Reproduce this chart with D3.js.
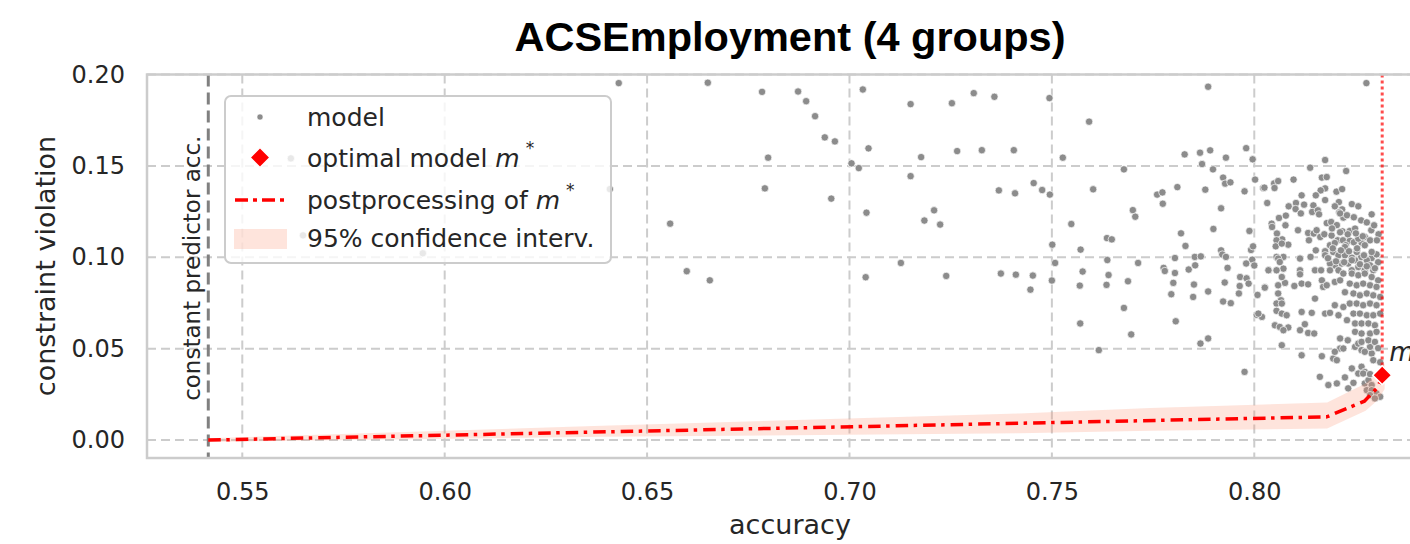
<!DOCTYPE html>
<html>
<head>
<meta charset="utf-8">
<script src="https://cdn.jsdelivr.net/npm/d3@7"></script>
<style>
  body { margin: 0; background: #fff; }
  text { font-family: "DejaVu Sans", sans-serif; fill: #262626; }
</style>
</head>
<body>
<div id="chart"></div>
<script>
// Model results: [accuracy, constraint violation]
var models = [
  [0.6430,0.1953],[0.6650,0.1955],[0.6784,0.1905],[0.6873,0.1907],[0.6893,0.1854],[0.6915,0.1772],[0.6939,0.1656],[0.6964,0.1634],
  [0.6799,0.1545],[0.6791,0.1377],[0.6955,0.1321],[0.6557,0.1184],[0.6598,0.0924],[0.6655,0.0874],[0.7033,0.1918],[0.7047,0.1596],
  [0.7005,0.1514],[0.7023,0.1488],[0.7042,0.1244],[0.7040,0.0891],[0.7151,0.1838],[0.7177,0.1548],[0.7151,0.1444],[0.7209,0.1257],
  [0.7185,0.1201],[0.7224,0.1179],[0.7127,0.0969],[0.7239,0.0898],[0.7253,0.1843],[0.7307,0.1898],[0.7358,0.1878],[0.7266,0.1581],
  [0.7327,0.1586],[0.7406,0.1586],[0.7369,0.1366],[0.7409,0.1350],[0.7374,0.0911],[0.7411,0.0905],[0.5620,0.1541],[0.6408,0.1373],
  [0.5650,0.1120],[0.5946,0.1022],
  [0.7527,0.1545],[0.7678,0.1481],[0.7455,0.1406],[0.7476,0.1368],[0.7495,0.1343],[0.7602,0.1372],[0.7700,0.1258],[0.7706,0.1222],
  [0.7548,0.1182],[0.7501,0.1069],[0.7571,0.1042],[0.7508,0.0969],[0.7636,0.1105],[0.7648,0.1098],[0.7637,0.0985],[0.7713,0.0969],
  [0.7453,0.0900],[0.7447,0.0823],[0.7500,0.0873],[0.7576,0.0922],[0.7569,0.0845],[0.7640,0.0903],[0.7635,0.0849],[0.7688,0.0869],
  [0.7678,0.0723],[0.7570,0.0638],[0.7696,0.0578],[0.7616,0.0492],[0.7760,0.1343],[0.7773,0.1355],[0.7774,0.1293],[0.7810,0.1384],
  [0.7828,0.1563],[0.7866,0.1572],[0.7891,0.1585],[0.7871,0.1510],[0.7898,0.1481],[0.7930,0.1545],[0.7996,0.1536],[0.7923,0.1436],
  [0.7928,0.1403],[0.7941,0.1410],[0.7879,0.1370],[0.7976,0.1361],[0.8002,0.1425],[0.8022,0.1379],[0.8032,0.1297],[0.7918,0.1268],
  [0.7819,0.1131],[0.7830,0.1062],[0.7899,0.1155],[0.7988,0.1144],[0.7804,0.0996],[0.7853,0.1002],[0.7868,0.1005],[0.7918,0.1038],
  [0.7921,0.1015],[0.7930,0.1002],[0.7992,0.1040],[0.7997,0.1060],[0.7995,0.0987],[0.7980,0.0966],[0.8000,0.0955],[0.7776,0.0942],
  [0.7779,0.0925],[0.7804,0.0914],[0.7838,0.0933],[0.7854,0.0956],[0.7934,0.0942],[0.7800,0.0860],[0.7795,0.0798],[0.7851,0.0851],
  [0.7849,0.0783],[0.7886,0.0813],[0.7927,0.0862],[0.7965,0.0892],[0.7981,0.0885],[0.7986,0.0856],[0.7964,0.0843],[0.7962,0.0802],
  [0.8008,0.0794],[0.8026,0.0836],[0.8036,0.0929],[0.7923,0.0758],[0.7942,0.0749],[0.8006,0.0685],[0.8019,0.0674],[0.7806,0.0650],
  [0.7867,0.0528],[0.7886,0.0556],[0.7976,0.0373],[0.8277,0.1953],[0.7886,0.1933],[0.7494,0.1871],[0.7592,0.1742],[0.7980,0.1597],
  [0.8049,0.1404],[0.8059,0.1417],[0.8050,0.1379],[0.8097,0.1425],[0.8138,0.1490],[0.8175,0.1532],[0.8227,0.1472],[0.8167,0.1436],
  [0.8179,0.1439],[0.8175,0.1377],[0.8164,0.1366],[0.8203,0.1359],[0.8217,0.1373],[0.8152,0.1339],[0.8175,0.1313],[0.8209,0.1302],
  [0.8241,0.1291],[0.8257,0.1279],[0.8290,0.1235],[0.8289,0.1148],[0.8307,0.1126],[0.8085,0.1279],[0.8103,0.1297],[0.8117,0.1339],
  [0.8123,0.1288],[0.8078,0.1228],[0.8102,0.1264],[0.8115,0.1240],[0.8146,0.1284],[0.8143,0.1248],[0.8157,0.1257],[0.8160,0.1235],
  [0.8199,0.1279],[0.8217,0.1262],[0.8210,0.1246],[0.8220,0.1217],[0.8043,0.1184],[0.8044,0.1166],[0.8061,0.1215],[0.8077,0.1175],
  [0.8108,0.1148],[0.8056,0.1130],[0.8069,0.1098],[0.8055,0.1093],[0.8053,0.1060],[0.8084,0.1069],[0.8133,0.1133],[0.8135,0.1093],
  [0.8147,0.1130],[0.8154,0.1148],[0.8179,0.1187],[0.8190,0.1193],[0.8204,0.1176],[0.8163,0.1111],[0.8173,0.1126],[0.8191,0.1119],
  [0.8218,0.1142],[0.8236,0.1144],[0.8206,0.1093],[0.8219,0.1093],[0.8236,0.1091],[0.8226,0.1066],[0.8246,0.1082],[0.8265,0.1080],
  [0.8254,0.1038],[0.8152,0.1038],[0.8175,0.1033],[0.8195,0.1029],[0.8220,0.1029],[0.8228,0.1024],[0.8264,0.1002],[0.8290,0.0996],
  [0.8302,0.1016],[0.8139,0.1002],[0.8055,0.1002],[0.8072,0.1002],[0.8025,0.1381],[0.8273,0.1111],[0.8286,0.1093],[0.8249,0.1157],
  [0.8257,0.1102],[0.8273,0.1066],[0.8253,0.1029],[0.8290,0.1029],[0.8278,0.0984],[0.8249,0.0984],[0.8187,0.1066],[0.8199,0.1078],
  [0.8224,0.1056],[0.8175,0.1011],[0.8208,0.1011],[0.8224,0.1011],[0.8241,0.0998],[0.8232,0.0966],[0.8216,0.0966],[0.8199,0.0956],
  [0.8187,0.0966],[0.8208,0.0929],[0.8241,0.0929],[0.8257,0.0947],[0.8273,0.0929],[0.8294,0.0929],[0.8286,0.0956],[0.8059,0.0993],
  [0.8072,0.0938],[0.8063,0.0974],[0.8035,0.0929],[0.8055,0.0929],[0.8113,0.0993],[0.8113,0.0929],[0.8150,0.0929],[0.8187,0.0929],
  [0.8165,0.0929],[0.8068,0.1075],[0.8212,0.1240],[0.8229,0.1230],[0.8246,0.1219],[0.8264,0.1202],[0.8278,0.1191],[0.8296,0.1175],
  [0.8192,0.1158],[0.8212,0.1137],[0.8231,0.1126],[0.8251,0.1131],[0.8268,0.1115],[0.8303,0.1093],[0.8194,0.1049],[0.8214,0.1038],
  [0.8234,0.1033],[0.8254,0.1049],[0.8271,0.1011],[0.8306,0.0973],[0.8182,0.0995],[0.8202,0.0978],[0.8222,0.0973],[0.8241,0.0984],
  [0.8261,0.0962],[0.8278,0.0951],[0.8298,0.0940],[0.8026,0.0834],[0.8059,0.0847],[0.8076,0.0860],[0.8099,0.0843],[0.8117,0.0856],
  [0.8133,0.0852],[0.8113,0.0907],[0.8068,0.0892],[0.8167,0.0874],[0.8170,0.0838],[0.8179,0.0847],[0.8199,0.0865],[0.8212,0.0874],
  [0.8220,0.0911],[0.8059,0.0802],[0.8066,0.0765],[0.8055,0.0747],[0.8068,0.0747],[0.8150,0.0774],[0.8199,0.0738],[0.8220,0.0728],
  [0.8055,0.0707],[0.8068,0.0692],[0.8010,0.0692],[0.8080,0.0683],[0.8117,0.0701],[0.8142,0.0696],[0.8175,0.0692],[0.8187,0.0696],
  [0.8208,0.0683],[0.8051,0.0628],[0.8063,0.0619],[0.8084,0.0616],[0.8072,0.0601],[0.8125,0.0634],[0.8113,0.0601],[0.8133,0.0586],
  [0.8148,0.0583],[0.8212,0.0556],[0.8068,0.0519],[0.8212,0.0501],[0.8220,0.0501],[0.8117,0.0464],[0.8167,0.0459],[0.8195,0.0446],
  [0.8199,0.0483],[0.8204,0.0437],[0.8249,0.0510],[0.8257,0.0528],[0.8265,0.0492],[0.8290,0.0474],[0.8294,0.0437],[0.8286,0.0510],
  [0.8241,0.0392],[0.8265,0.0401],[0.8273,0.0373],[0.8257,0.0364],[0.8162,0.0346],[0.8224,0.0343],[0.8183,0.0301],[0.8204,0.0310],
  [0.8232,0.0283],[0.8273,0.0310],[0.8282,0.0328],[0.8290,0.0301],[0.8278,0.0273],[0.8290,0.0273],[0.8302,0.0255],[0.8286,0.0246],
  [0.8245,0.0313],[0.8269,0.0364],[0.8286,0.0361],[0.8311,0.0237],[0.8298,0.0228],
  [0.8241,0.0911],[0.8257,0.0902],[0.8273,0.0911],[0.8290,0.0892],[0.8306,0.0874],[0.8236,0.0856],[0.8253,0.0847],[0.8269,0.0856],
  [0.8286,0.0847],[0.8302,0.0838],[0.8245,0.0802],[0.8261,0.0792],[0.8278,0.0802],[0.8294,0.0792],[0.8311,0.0783],[0.8236,0.0747],
  [0.8253,0.0747],[0.8269,0.0738],[0.8286,0.0747],[0.8302,0.0738],[0.8245,0.0692],[0.8261,0.0692],[0.8278,0.0683],[0.8294,0.0683],
  [0.8311,0.0692],[0.8249,0.0638],[0.8265,0.0638],[0.8282,0.0638],[0.8298,0.0628],[0.8249,0.0592],[0.8265,0.0583],[0.8286,0.0583],
  [0.8302,0.0592],[0.8265,0.0537],[0.8282,0.0546],[0.8298,0.0537],[0.8273,0.0483],[0.8224,0.0809],[0.8229,0.0656],[0.8231,0.0546],
  [0.8306,0.0503],[0.8311,0.0426]
];

// postprocessing curve of m*
var postAcc = [0.5416, 0.8179, 0.8272, 0.8306, 0.8316];
var postViol = [0.0000, 0.0127, 0.0213, 0.0291, 0.0355];

// 95% confidence band
var ciAcc = [0.5416, 0.6388, 0.7420, 0.7743, 0.8180, 0.8275, 0.8306, 0.8322];
var ciLow = [-0.0010, 0.0018, 0.0037, 0.0051, 0.0064, 0.0160, 0.0220, 0.0280];
var ciHigh = [0.0010, 0.0078, 0.0146, 0.0176, 0.0206, 0.0310, 0.0370, 0.0420];

var optimalAcc = 0.8316, optimalViol = 0.0355;
var constantAcc = 0.5416;

var xTicks = [0.55, 0.60, 0.65, 0.70, 0.75, 0.80];
var yTicks = [0.00, 0.05, 0.10, 0.15, 0.20];

// SVG size and margins
var svgWidth = 1410;
var svgHeight = 544;
var margin = {top: 74.5, right: -10, bottom: 86, left: 147};
var chartWidth = svgWidth - margin.left - margin.right;
var chartHeight = svgHeight - margin.top - margin.bottom;

var svg = d3.select("#chart")
  .append("svg")
  .attr("width", svgWidth)
  .attr("height", svgHeight);

var chartGroup = svg.append("g")
  .attr("transform", `translate(${margin.left}, ${margin.top})`);

var xScale = d3.scaleLinear()
  .domain([0.52646, 0.84094])
  .range([0, chartWidth]);

var yScale = d3.scaleLinear()
  .domain([-0.0098, 0.2])
  .range([chartHeight, 0]);

// grid
chartGroup.selectAll(".xgrid")
  .data(xTicks)
  .enter().append("line")
  .attr("x1", d => xScale(d)).attr("x2", d => xScale(d))
  .attr("y1", 0).attr("y2", chartHeight)
  .attr("stroke", "#cccccc").attr("stroke-width", 2)
  .attr("stroke-dasharray", "9,5");

chartGroup.selectAll(".ygrid")
  .data(yTicks)
  .enter().append("line")
  .attr("x1", 0).attr("x2", chartWidth)
  .attr("y1", d => yScale(d)).attr("y2", d => yScale(d))
  .attr("stroke", "#cccccc").attr("stroke-width", 2)
  .attr("stroke-dasharray", "9,5");

// axes, labels only
var leftAxis = d3.axisLeft(yScale).tickValues(yTicks).tickSize(0).tickPadding(22).tickFormat(d3.format(".2f"));
var bottomAxis = d3.axisBottom(xScale).tickValues(xTicks).tickSize(0).tickPadding(25).tickFormat(d3.format(".2f"));

var yAxisG = chartGroup.append("g").call(leftAxis);
var xAxisG = chartGroup.append("g").attr("transform", `translate(0, ${chartHeight})`).call(bottomAxis);
[yAxisG, xAxisG].forEach(function(g) {
  g.select(".domain").remove();
  g.attr("font-family", null).attr("font-size", null);
  g.selectAll("text").style("font-size", "24px").style("fill", "#262626");
});

// constant predictor line
chartGroup.append("line")
  .attr("x1", xScale(constantAcc)).attr("x2", xScale(constantAcc))
  .attr("y1", 0).attr("y2", chartHeight)
  .attr("stroke", "#808080").attr("stroke-width", 3)
  .attr("stroke-dasharray", "12,6");

chartGroup.append("text")
  .attr("transform", `translate(${xScale(constantAcc) - 8}, ${chartHeight / 2 + 2}) rotate(-90)`)
  .attr("text-anchor", "middle")
  .style("font-size", "23px")
  .text("constant predictor acc.");

// clip for marks
svg.append("defs").append("clipPath").attr("id", "plotclip")
  .append("rect").attr("x", 0).attr("y", 0).attr("width", chartWidth).attr("height", chartHeight);

var marks = chartGroup.append("g").attr("clip-path", "url(#plotclip)");

// scatter of models
marks.selectAll("circle")
  .data(models)
  .enter().append("circle")
  .attr("cx", d => xScale(d[0]))
  .attr("cy", d => yScale(d[1]))
  .attr("r", 3.7)
  .attr("fill", "#8c8c8c")
  .attr("stroke", "#ffffff")
  .attr("stroke-width", 0.7);

// confidence band
var ciData = ciAcc.map((a, i) => ({acc: a, lo: ciLow[i], hi: ciHigh[i]}));
var area = d3.area()
  .x(d => xScale(d.acc))
  .y0(d => yScale(d.lo))
  .y1(d => yScale(d.hi));
marks.append("path")
  .datum(ciData)
  .attr("d", area)
  .attr("fill", "rgb(252,146,114)")
  .attr("fill-opacity", 0.25);

// postprocessing line
var postData = postAcc.map((a, i) => [a, postViol[i]]);
var line = d3.line().x(d => xScale(d[0])).y(d => yScale(d[1]));
marks.append("path")
  .datum(postData)
  .attr("d", line)
  .attr("fill", "none")
  .attr("stroke", "#ff0000")
  .attr("stroke-width", 3.5)
  .attr("stroke-dasharray", "12.5,5.5,3.5,6");

// dotted line above m*
marks.append("line")
  .attr("x1", xScale(optimalAcc)).attr("x2", xScale(optimalAcc))
  .attr("y1", 0).attr("y2", yScale(optimalViol))
  .attr("stroke", "#ff0000").attr("stroke-opacity", 0.7)
  .attr("stroke-width", 3).attr("stroke-dasharray", "3,3");

// frame
chartGroup.append("rect")
  .attr("x", 0).attr("y", 0)
  .attr("width", chartWidth).attr("height", chartHeight)
  .attr("fill", "none").attr("stroke", "#cccccc").attr("stroke-width", 2.5);

// optimal model diamond
chartGroup.append("path")
  .attr("d", d3.symbol().type(d3.symbolSquare).size(180)())
  .attr("transform", `translate(${xScale(optimalAcc)}, ${yScale(optimalViol)}) rotate(45)`)
  .attr("fill", "#ff0000").attr("stroke", "#ffffff").attr("stroke-width", 1.5);

var mLabel = chartGroup.append("text")
  .attr("x", xScale(optimalAcc) + 7)
  .attr("y", yScale(optimalViol) - 14)
  .style("font-size", "26px");
mLabel.append("tspan").style("font-style", "italic").text("m");
mLabel.append("tspan").attr("dx", 3).attr("dy", -12).style("font-size", "18px").text("*");

// title and axis labels
svg.append("text")
  .attr("x", 790).attr("y", 51)
  .attr("text-anchor", "middle")
  .style("font-family", "'Liberation Sans', Arial, sans-serif")
  .style("font-weight", "bold")
  .style("font-size", "41.5px")
  .style("fill", "#000")
  .text("ACSEmployment (4 groups)");

svg.append("text")
  .attr("x", 790).attr("y", 534)
  .attr("text-anchor", "middle")
  .style("font-size", "27px")
  .text("accuracy");

svg.append("text")
  .attr("transform", "translate(55, 266) rotate(-90)")
  .attr("text-anchor", "middle")
  .style("font-size", "27px")
  .text("constraint violation");

// legend
var legend = svg.append("g");
legend.append("rect")
  .attr("x", 225).attr("y", 96).attr("width", 386).attr("height", 167).attr("rx", 6)
  .attr("fill", "#ffffff").attr("fill-opacity", 0.8)
  .attr("stroke", "#cccccc").attr("stroke-width", 2);

legend.append("circle").attr("cx", 260).attr("cy", 117).attr("r", 3)
  .attr("fill", "#8c8c8c").attr("stroke", "#fff").attr("stroke-width", 0.5);
legend.append("path")
  .attr("d", d3.symbol().type(d3.symbolSquare).size(200)())
  .attr("transform", "translate(260, 157.5) rotate(45)")
  .attr("fill", "#ff0000").attr("stroke", "#fff").attr("stroke-width", 1.5);
legend.append("line").attr("x1", 235).attr("x2", 287).attr("y1", 200).attr("y2", 200)
  .attr("stroke", "#ff0000").attr("stroke-width", 3.5).attr("stroke-dasharray", "13,5,4,5");
legend.append("rect").attr("x", 234).attr("y", 229).attr("width", 53).attr("height", 20)
  .attr("fill", "rgb(252,146,114)").attr("fill-opacity", 0.25);

var legendTexts = [
  {y: 126, main: "model"},
  {y: 166.5, main: "optimal model ", star: true},
  {y: 208.5, main: "postprocessing of ", star: true},
  {y: 247, main: "95% confidence interv."}
];
legendTexts.forEach(function(t) {
  var tx = legend.append("text").attr("x", 307).attr("y", t.y).style("font-size", "25px");
  tx.append("tspan").text(t.main);
  if (t.star) {
    tx.append("tspan").style("font-style", "italic").text("m");
    tx.append("tspan").attr("dx", 6).attr("dy", -13).style("font-size", "17px").text("*");
  }
});
</script>
</body>
</html>
